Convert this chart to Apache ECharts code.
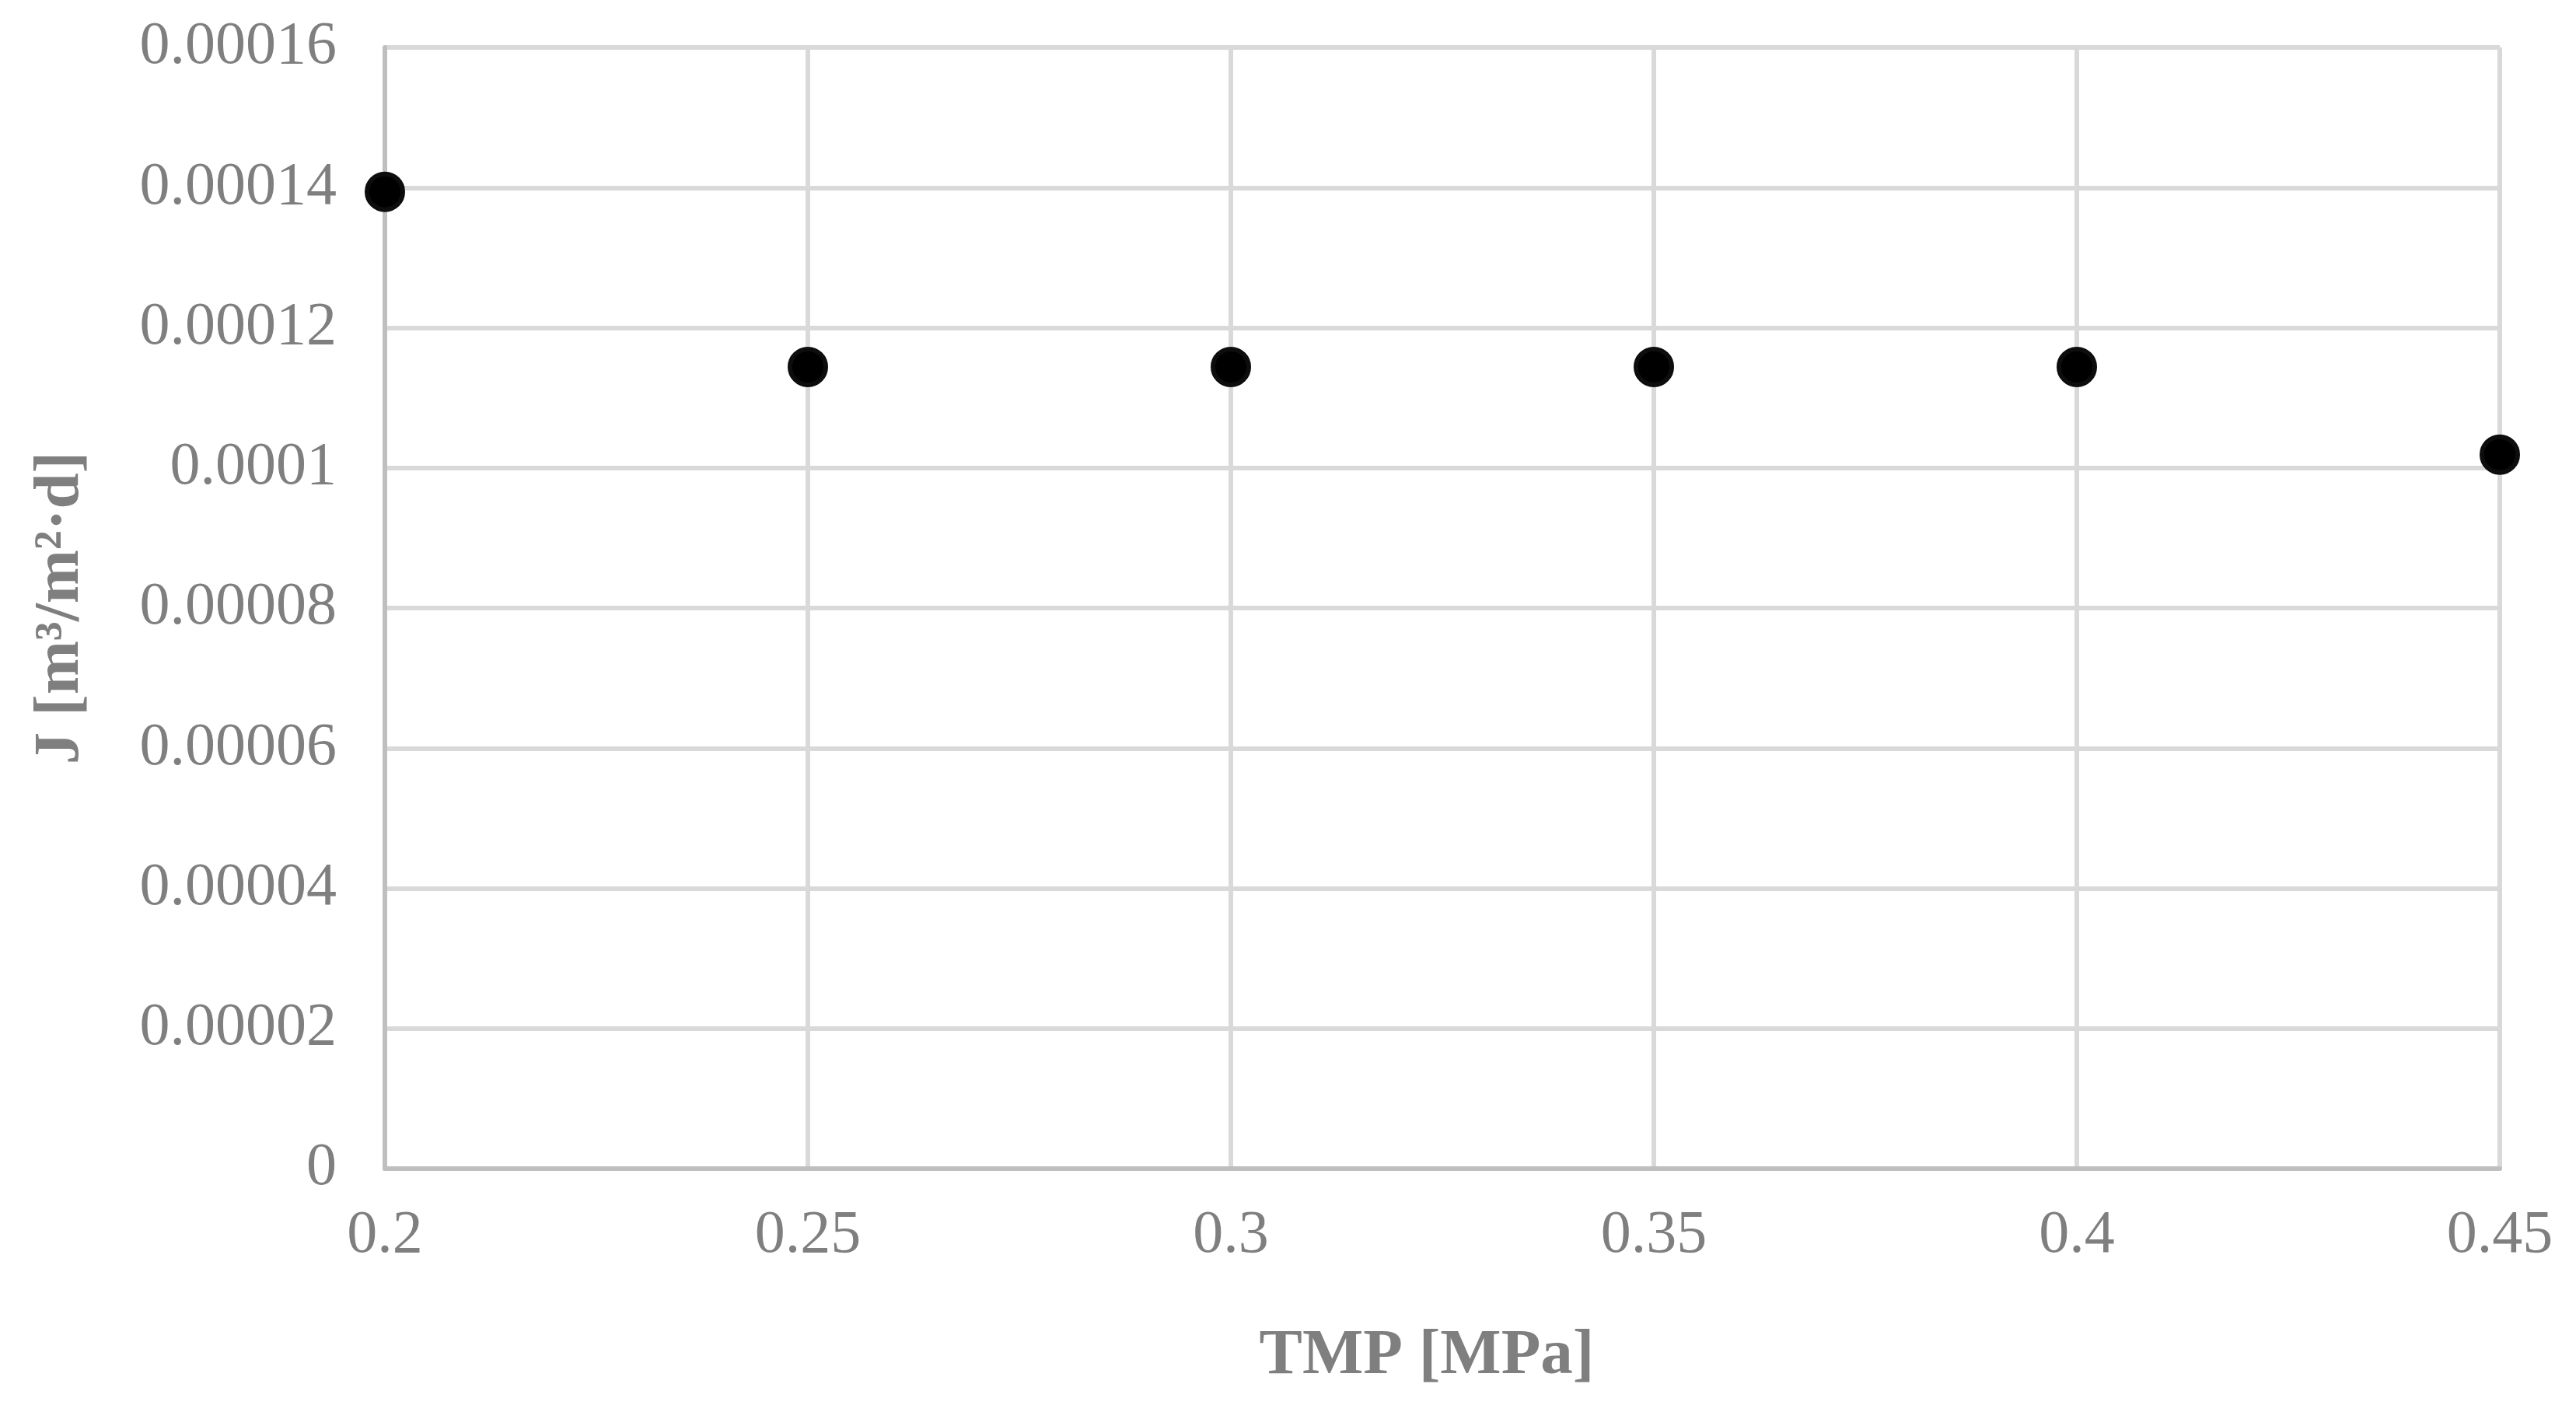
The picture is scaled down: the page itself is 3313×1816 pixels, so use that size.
<!DOCTYPE html>
<html lang="en">

<head>
    <meta charset="UTF-8">
    <title>J vs TMP</title>
    <script src="https://cdn.jsdelivr.net/npm/echarts@6.0.0/dist/echarts.min.js"></script>
    <style>
        html, body { margin: 0; padding: 0; background: #fff; }
    </style>
</head>

<body>
    <div id="myChart" style="width: 3313px; height: 1816px;"></div>
    <script>
        // data
        const tmpValues = [0.2, 0.25, 0.3, 0.35, 0.4, 0.45];
        const fluxValues = [0.0001394, 0.0001144, 0.0001144, 0.0001144, 0.0001144, 0.0001019];
        const xTicks = [0.2, 0.25, 0.3, 0.35, 0.4, 0.45];
        const yTicks = [0, 0.00002, 0.00004, 0.00006, 0.00008, 0.0001, 0.00012, 0.00014, 0.00016];

        const points = tmpValues.map((x, i) => [x, fluxValues[i]]);
        const fontFamily = '"Liberation Serif", "Times New Roman", serif';
        const labelColor = '#7f7f7f';

        const myChart = echarts.init(document.getElementById('myChart'));

        const option = {
            animation: false,
            backgroundColor: '#fff',
            grid: {
                left: 495,
                right: 98,
                top: 61,
                bottom: 313,
                containLabel: false
            },
            xAxis: {
                type: 'value',
                min: xTicks[0],
                max: xTicks[xTicks.length - 1],
                interval: 0.05,
                name: 'TMP [MPa]',
                nameLocation: 'middle',
                nameGap: 200,
                nameTextStyle: {
                    color: labelColor,
                    fontFamily: fontFamily,
                    fontWeight: 'bold',
                    fontSize: 83,
                    padding: [0, 40, 0, 0]
                },
                axisLine: { show: true, lineStyle: { color: '#bfbfbf', width: 6 } },
                axisTick: { show: false },
                axisLabel: {
                    color: labelColor,
                    fontFamily: fontFamily,
                    fontSize: 78,
                    margin: 48,
                    formatter: v => String(parseFloat(v.toPrecision(6)))
                },
                splitLine: { show: true, lineStyle: { color: '#d9d9d9', width: 6 } }
            },
            yAxis: {
                type: 'value',
                min: yTicks[0],
                max: yTicks[yTicks.length - 1],
                interval: 0.00002,
                name: 'J [m³/m²·d]',
                nameLocation: 'middle',
                nameGap: 375,
                nameRotate: 90,
                nameTextStyle: {
                    color: labelColor,
                    fontFamily: fontFamily,
                    fontWeight: 'bold',
                    fontSize: 83
                },
                axisLine: { show: true, lineStyle: { color: '#bfbfbf', width: 6 } },
                axisTick: { show: false },
                axisLabel: {
                    color: labelColor,
                    fontFamily: fontFamily,
                    fontSize: 78,
                    margin: 62,
                    formatter: v => String(parseFloat(v.toPrecision(6)))
                },
                splitLine: { show: true, lineStyle: { color: '#d9d9d9', width: 6 } }
            },
            series: [{
                type: 'scatter',
                data: points,
                symbol: 'circle',
                symbolSize: 46,
                itemStyle: {
                    color: '#000',
                    borderColor: '#0d0d0d',
                    borderWidth: 6,
                    opacity: 1
                },
                z: 5
            }]
        };
        myChart.setOption(option);
    </script>
</body>

</html>
